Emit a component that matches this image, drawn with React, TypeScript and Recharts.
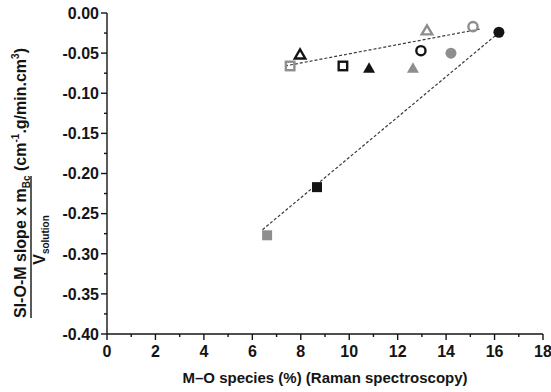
import * as React from "react"
import { ComposedChart, Scatter, XAxis, YAxis } from "recharts"

// ── Layout / style ─────────────────────────────────────────────
const W = 551
const H = 392
const FONT = "'Liberation Sans', Arial, Helvetica, sans-serif"
const BLACK = "#141414"
const GREY = "#8e8e8e"
const FIT_STROKE = "#3a3a3a"

// ── Samples (x = M–O species %, y = normalised Si-O-M slope) ───
const sampleX = [7.56, 7.97, 9.74, 10.82, 12.63, 13.21, 12.96, 14.2, 15.11, 16.18, 8.67, 6.61]
const sampleY = [-0.066, -0.051, -0.066, -0.068, -0.068, -0.021, -0.047, -0.05, -0.017, -0.024, -0.217, -0.277]
const sampleShape = ["square", "triangle", "square", "triangle", "triangle", "triangle", "circle", "circle", "circle", "circle", "square", "square"]
const sampleTone = ["grey", "black", "black", "black", "grey", "grey", "black", "grey", "grey", "black", "black", "grey"]
const sampleFilled = [false, false, false, true, true, false, false, true, false, true, true, true]

// ── Dashed trend lines (end points) ────────────────────────────
const upperFitX = [7.35, 15.4]
const upperFitY = [-0.066, -0.02]
const lowerFitX = [6.42, 16.2]
const lowerFitY = [-0.27, -0.024]

// ── Axis ticks ─────────────────────────────────────────────────
const xTicks = [0, 1, 2, 3, 4, 5, 6, 7, 8, 9, 10, 11, 12, 13, 14, 15, 16, 17, 18]
const yTicks = [0, -0.025, -0.05, -0.075, -0.1, -0.125, -0.15, -0.175, -0.2, -0.225, -0.25, -0.275, -0.3, -0.325, -0.35, -0.375, -0.4]

const samples = sampleX.map((x, i) => ({
  x,
  y: sampleY[i],
  shape: sampleShape[i],
  tone: sampleTone[i],
  filled: sampleFilled[i],
}))
const upperFit = upperFitX.map((x, i) => ({ x, y: upperFitY[i] }))
const lowerFit = lowerFitX.map((x, i) => ({ x, y: lowerFitY[i] }))

// ── Marker shapes ──────────────────────────────────────────────
function SampleMarker(props: any) {
  const { cx, cy, payload } = props
  if (cx == null || cy == null || !payload) return <g />
  const colour = payload.tone === "grey" ? GREY : BLACK
  const fill = payload.filled ? colour : "none"
  const sw = payload.filled ? 0 : 2.4
  if (payload.shape === "circle") {
    const r = payload.filled ? 5.5 : 4.6
    return <circle cx={cx} cy={cy} r={r} fill={fill} stroke={colour} strokeWidth={sw} />
  }
  if (payload.shape === "square") {
    const s = payload.filled ? 10 : 8.5
    return <rect x={cx - s / 2} y={cy - s / 2} width={s} height={s} fill={fill} stroke={colour} strokeWidth={sw} />
  }
  const w = payload.filled ? 12 : 10.5
  const h = payload.filled ? 10.5 : 9
  const pts = `${cx - w / 2},${cy + h / 2} ${cx + w / 2},${cy + h / 2} ${cx},${cy - h / 2}`
  return <polygon points={pts} fill={fill} stroke={colour} strokeWidth={sw} strokeLinejoin="miter" />
}

const noMarker = () => <g />

// ── Axis ticks with minor marks ────────────────────────────────
function XTick(props: any) {
  const { x, y, payload } = props
  const v = payload.value as number
  const major = v % 2 === 0
  return (
    <g>
      <line x1={x} y1={y} x2={x} y2={y + (major ? 6 : 3)} stroke={BLACK} strokeWidth={1.4} />
      {major && (
        <text x={x} y={y + 23} textAnchor="middle" fontFamily={FONT} fontWeight="bold" fontSize={16} fill={BLACK}>
          {v}
        </text>
      )}
    </g>
  )
}

function YTick(props: any) {
  const { x, y, payload, index } = props
  const v = payload.value as number
  const major = index % 2 === 0
  const label = v === 0 ? "0.00" : v.toFixed(2)
  return (
    <g>
      <line x1={x} y1={y} x2={x - (major ? 6 : 3)} y2={y} stroke={BLACK} strokeWidth={1.4} />
      {major && (
        <text x={x - 8} y={y} dy="0.36em" textAnchor="end" fontFamily={FONT} fontWeight="bold" fontSize={16} fill={BLACK}>
          {label}
        </text>
      )}
    </g>
  )
}

export default function App() {
  return (
    <div style={{ position: "absolute", left: 0, top: 0, width: W, height: H, background: "#fff" }}>
      <ComposedChart width={W} height={H} margin={{ top: 13, right: 8, bottom: 28, left: 47 }}>
        <XAxis
          dataKey="x"
          type="number"
          domain={[0, 18]}
          ticks={xTicks}
          interval={0}
          tick={<XTick />}
          tickLine={false}
          tickSize={0}
          tickMargin={0}
          height={30}
          axisLine={{ stroke: BLACK, strokeWidth: 1.4 }}
          allowDataOverflow
        />
        <YAxis
          dataKey="y"
          type="number"
          domain={[-0.4, 0]}
          ticks={yTicks}
          interval={0}
          tick={<YTick />}
          tickLine={false}
          tickSize={0}
          tickMargin={0}
          width={60}
          axisLine={{ stroke: BLACK, strokeWidth: 1.4 }}
          allowDataOverflow
        />
        <Scatter
          data={upperFit}
          line={{ stroke: FIT_STROKE, strokeWidth: 1.2, strokeDasharray: "3 2" }}
          shape={noMarker}
          isAnimationActive={false}
        />
        <Scatter
          data={lowerFit}
          line={{ stroke: FIT_STROKE, strokeWidth: 1.2, strokeDasharray: "3 2" }}
          shape={noMarker}
          isAnimationActive={false}
        />
        <Scatter data={samples} shape={<SampleMarker />} isAnimationActive={false} />
      </ComposedChart>

      {/* axis titles */}
      <svg width={W} height={H} style={{ position: "absolute", left: 0, top: 0, pointerEvents: "none" }}>
        <text x={325} y={383} textAnchor="middle" fontFamily={FONT} fontWeight="bold" fontSize={15} fill={BLACK}>
          M–O species (%) (Raman spectroscopy)
        </text>
        <g transform="rotate(-90)" fontFamily={FONT} fontWeight="bold" fill={BLACK}>
          <text x={-318} y={26} fontSize={16}>
            SI-O-M slope x m<tspan fontSize={10} dy={4}>Bc</tspan>
            <tspan dy={-4}> (cm</tspan>
            <tspan fontSize={10} dy={-7}>-1</tspan>
            <tspan dy={7}>.g/min.cm</tspan>
            <tspan fontSize={10} dy={-7}>3</tspan>
            <tspan dy={7}>)</tspan>
          </text>
          <line x1={-318} x2={-176} y1={31} y2={31} stroke={BLACK} strokeWidth={1.4} />
          <text x={-240} y={45} fontSize={16} textAnchor="middle">
            V<tspan fontSize={10} dy={4}>solution</tspan>
          </text>
        </g>
      </svg>
    </div>
  )
}
